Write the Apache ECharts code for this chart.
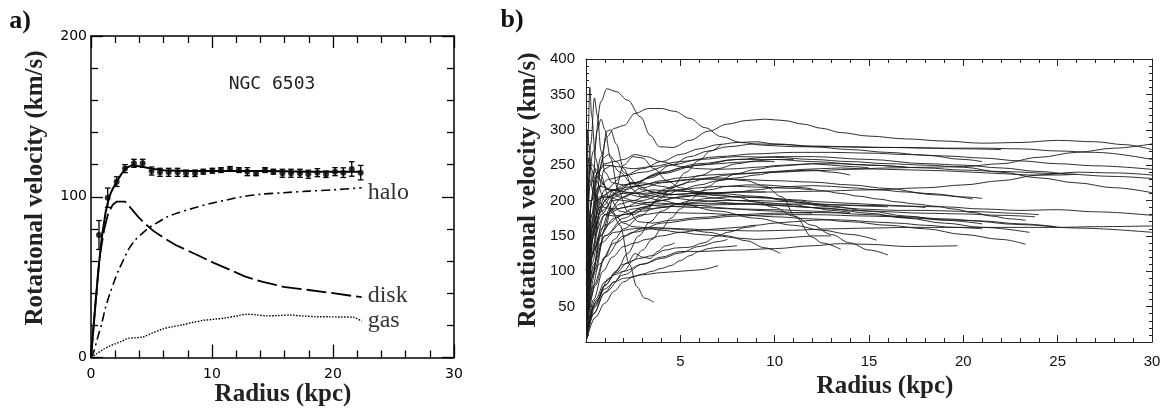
<!DOCTYPE html>
<html>
<head>
<meta charset="utf-8">
<script src="https://cdn.jsdelivr.net/npm/echarts@6/dist/echarts.min.js"></script>
<style>
  html, body { margin: 0; padding: 0; background: #fff; }
  #chart { width: 1170px; height: 408px; }
</style>
</head>
<body>
<div id="chart"></div>
<script>
// ---------- Panel a: NGC 6503 ----------
const radiusPts = [0.66, 1.38, 2.12, 2.81, 3.55, 4.27, 5.01, 5.70, 6.42, 7.16, 7.85, 8.60, 9.28, 10.03, 10.74, 11.49, 12.23, 12.92, 13.64, 14.38, 15.07, 15.82, 16.53, 17.27, 17.96, 18.71, 19.42, 20.17, 20.85, 21.55, 22.29];
const velocityPts = [76.2, 99.4, 109.4, 117.5, 120.8, 120.8, 116.0, 115.2, 115.2, 115.2, 114.6, 114.6, 115.6, 116.2, 116.6, 117.3, 116.6, 115.6, 114.6, 116.6, 115.6, 114.6, 114.6, 114.6, 114.0, 115.0, 114.0, 115.6, 115.0, 117.3, 115.0];
const errorPts = [9, 6, 3, 2.5, 2.5, 2.5, 2.5, 2.5, 2.5, 2.5, 2, 2, 1.5, 1.5, 1.5, 1.5, 1.5, 2.5, 1.5, 1.5, 1.5, 2.5, 2.5, 2.5, 2.5, 2.5, 2, 2.5, 3, 4.5, 4.5];

const fitTotal = [[0,0],[0.3,27],[0.6,54],[0.9,75],[1.2,90],[1.5,100],[1.8,105],[2.1,109],[2.5,114],[2.9,118],[3.4,119.5],[4,119],[5,117.5],[6,116.5],[8,116],[10,116],[12,116],[14,116],[16,115.8],[18,115.6],[20,115.5],[22.3,115.5]];
const fitDisk = [[0,0],[0.35,32],[0.74,64],[1.1,80],[1.43,90],[1.8,95],[2.12,97],[2.81,97],[3.4,92],[3.9,87.5],[4.5,83],[5.2,78.5],[6.1,74],[7,70],[7.85,67],[9,63],[10.1,59],[11.35,55],[12.7,50.5],[14.2,47],[15.9,44],[18,42],[20,40],[22.37,37.5]];
const fitHalo = [[0,0],[0.2,3],[0.5,11],[0.88,21],[1.2,31],[1.57,40],[2,49],[2.26,54],[2.7,61],[3.08,67],[3.64,73],[4.2,77],[4.74,80.5],[5.5,84],[6.3,87.5],[7.2,90],[8.5,93],[9.97,96],[11.2,98],[12.45,100],[14,101.5],[15.9,102.5],[18,103.5],[20,104.3],[22.37,105.6]];
const fitGas = [[0,0],[0.5,2.5],[1,5],[1.43,6.7],[2,8.5],[2.5,10],[3.08,11.9],[3.7,12.3],[4.32,12.8],[5,15],[5.84,17.5],[6.6,19],[7.5,20.2],[8.4,21.8],[9.28,23.1],[10.2,23.8],[11,24.5],[12,25.8],[12.87,26.9],[13.6,26.6],[14.5,25.9],[15.4,26.1],[16.45,26.4],[17.5,25.8],[18.65,25.4],[19.7,25.3],[20.7,25.2],[21.7,25],[22.37,22.5]];

const ticksA_x = [0, 10, 20, 30];
const ticksA_y = [0, 100, 200];

// ---------- Panel b: rotation curves of many spiral galaxies ----------
const galaxyCurves = [
  [[0.05,200],[0.4,270],[0.8,340],[1.1,358],[1.6,354],[2.2,342],[2.9,318],[3.4,292],[3.9,276],[4.6,275],[5.5,285],[6.5,298],[7.5,308],[8.5,313],[9.5,315],[10.5,313],[11.5,308],[12.5,302],[13.5,296],[15,291],[17,287],[19,284],[21,281],[23,282],[25,285],[27,283],[28.5,279],[30,272]],
  [[0.1,150],[0.5,230],[0.8,262],[1.1,290],[1.5,302],[2.0,306],[2.6,323],[3.3,330],[4.0,330],[4.7,326],[5.5,316],[6.3,303],[7.2,290],[8.2,282],[9.5,278],[11,276],[13,276],[15,275],[17,275],[19,274],[21,274],[23,273],[25,270],[27,268],[30,258]],
  [[0.05,80],[0.3,150],[0.7,190],[1.2,205],[2,215],[3,222],[4,228],[5,232],[6.5,236],[8,238],[10,240],[12,242],[14,244],[16,246],[18,247],[20,248],[22,252],[24,261],[26,268],[28,274],[30,280]],
  [[0.05,120],[0.3,200],[0.6,240],[1,250],[1.6,248],[2.5,245],[3.5,248],[5,255],[7,262],[9,266],[11,268],[13,268],[15,267],[17,265],[19,263],[21,260],[23,256],[25,252],[27,249],[30,244]],
  [[0.05,60],[0.3,160],[0.8,205],[1.5,215],[2.5,225],[4,240],[6,252],[8,258],[10,258],[12,255],[15,250],[18,246],[20,243],[22,241],[25,238],[28,234],[30,231]],
  [[0.05,40],[0.4,150],[1,180],[2,190],[3,200],[4,208],[6,210],[8,212],[10,212],[12,213],[15,215],[18,218],[20,222],[22,228],[24,236],[26,240],[28,239],[30,236]],
  [[0.05,100],[0.3,180],[0.7,220],[1.2,230],[2,235],[3,240],[4.5,250],[6,258],[8,262],[10,261],[12,258],[14,255],[16,252],[18,250],[20,247],[22,240],[24,232],[26,225],[28,218],[30,211]],
  [[0.05,60],[0.4,130],[1,165],[2,180],[3,188],[5,192],[7,194],[9,195],[11,195],[13,194],[15,193],[17,192],[19,191],[21,188],[23,186],[25,187],[27,184],[30,179]],
  [[0.05,40],[0.3,100],[0.8,140],[1.5,155],[2.5,160],[3.5,162],[5,160],[7,158],[9,157],[11,158],[13,160],[15,161],[17,162],[19,162],[21,162],[23,162],[25,162],[27,163],[30,164]],
  [[0.05,20],[0.4,80],[1,120],[2,150],[3,160],[4,168],[6,174],[8,178],[10,180],[12,180],[15,178],[20,172],[23,166],[26,161],[30,155]],
  [[0.05,30],[0.3,130],[0.8,190],[1.5,210],[2.5,225],[4,238],[6,250],[8,258],[10,262],[12,262],[15,258],[18,252],[20,250],[22,246],[24,241],[25.5,237]],
  [[0.05,50],[0.2,150],[0.5,200],[1,205],[2,200],[3,195],[4,192],[6,190],[8,188],[10,187],[12,185],[15,180],[17,177],[19,174],[21,171],[23,167],[24.9,163]],
  [[0.05,100],[0.3,200],[0.7,220],[1.5,215],[2.5,210],[4,205],[6,200],[8,196],[10,193],[12,190],[15,185],[18,182],[20,181],[22,179],[23.8,177]],
  [[0.05,30],[0.3,110],[0.7,150],[1.5,175],[2.5,188],[3.5,193],[5,196],[7,196],[9,195],[11,192],[13,188],[15,182],[17,175],[19,168],[21,162],[23.5,155]],
  [[0.05,30],[0.4,110],[1,150],[2,170],[3,180],[4,183],[6,182],[8,180],[10,177],[12,174],[14,170],[16,165],[18,160],[20,152],[22,145],[23.3,138]],
  [[0.05,50],[0.3,150],[0.8,185],[1.5,200],[2.5,210],[3.5,215],[5,213],[7,210],[9,206],[11,200],[13,192],[15,185],[17,178],[19,172],[21,167]],
  [[0.05,60],[0.3,170],[0.7,205],[1.5,215],[2.5,220],[4,226],[6,230],[8,230],[10,228],[12,226],[14,222],[16,217],[18,210],[20.5,202]],
  [[0.05,5],[0.4,40],[1,70],[2,95],[3,110],[4,120],[5,128],[6,128],[8,130],[10,132],[12,136],[13.5,139],[15,138],[17,135],[19.7,136]],
  [[0.05,20],[0.4,100],[1,150],[2,175],[3,190],[4,200],[5,205],[6,208],[7,208],[8,205],[9,198],[10,190],[11,178],[12,165],[13,152],[14,140],[15,130],[16,123]],
  [[0.05,40],[0.4,160],[1,205],[2,210],[3,205],[4,200],[5,195],[7,185],[9,175],[11,165],[12.5,158],[14,152],[15.4,144]],
  [[0.05,30],[0.4,130],[1,180],[2,205],[3,218],[4,225],[5.5,230],[7,232],[8.5,228],[9.5,220],[10.4,205],[11.1,177],[12,148],[12.5,140],[13.5,131]],
  [[0.05,10],[0.2,60],[0.7,110],[1.5,140],[2.5,155],[3.5,160],[4.5,160],[5.5,158],[6.5,155],[7.5,150],[8.5,143],[9.5,133],[10.3,125]],
  [[0.05,20],[0.5,80],[1,120],[1.5,145],[2,160],[2.9,178],[3.8,200],[4.6,220],[5.3,240],[6,257],[6.6,270],[7.2,280]],
  [[0.05,40],[0.3,90],[0.8,160],[1.3,190],[1.8,165],[2.3,110],[2.7,78],[3.1,62],[3.6,56]],
  [[0.05,10],[0.4,50],[1,75],[1.5,85],[2,90],[3,95],[4,98],[5,100],[6,102],[7,108]],
  [[0.05,15],[0.5,55],[1,80],[1.6,98],[2.2,112],[2.6,125],[3,120],[3.4,118],[3.8,128],[4.2,136],[4.7,140]],
  [[0.05,10],[0.5,60],[1,85],[1.5,95],[2,100],[3,110],[4,118],[5,126],[6,135],[7,142],[7.5,145]],
  [[0.05,150],[0.12,300],[0.2,360],[0.3,320],[0.5,260],[0.8,225],[1.2,215],[2,212],[3,210],[4,212],[5,215],[6,218],[7,220],[8,220],[9,219],[10,218],[11,217],[12,215]],
  [[0.05,60],[0.3,200],[0.6,300],[0.8,315],[1.0,300],[1.3,260],[1.7,215],[2.2,185],[2.8,170],[3.5,168],[4.5,172],[6,176],[8,180],[10,182],[12,183],[14,182]],
  [[0.05,40],[0.4,150],[0.8,250],[1.1,298],[1.3,300],[1.6,280],[2.0,245],[2.5,215],[3,205],[4,210],[5,222],[6,235],[7,245],[8,252],[9,256],[10,258],[11,258]],
  [[0.02,100],[0.08,300],[0.15,280],[0.3,230],[0.6,200],[1,190],[1.5,188],[2.5,192],[3.5,198],[5,205],[6.5,210],[8,212],[9.5,212]],
  [[0.05,50],[0.3,180],[0.6,240],[1,252],[1.5,255],[2,258],[2.6,265],[3.2,262],[4,255],[5,248],[6,245],[7,244],[8,245],[9,247],[10.5,250],[12,252],[13.5,252],[15,250],[17,247]],
  [[0.05,30],[0.3,120],[0.7,180],[1,200],[1.5,215],[2,222],[3,225],[4,220],[5,214],[6,210],[7,207],[8,205],[9,204],[10,203],[11,201],[12.5,198],[14,196],[15.5,194],[17,192],[18,190]],
  [[0.05,10],[0.6,60],[1.2,90],[2,110],[2.8,118],[3.5,122],[4.2,130],[4.8,133],[5.5,134],[6.2,140],[7,150],[7.5,155],[8.5,162],[9,164]],
  [[0.05,30],[0.3,140],[0.6,210],[1,245],[1.4,250],[1.8,240],[2.4,225],[3,215],[4,210],[5,208],[6,206],[7,203],[8,200],[9,198],[10,196],[11,194],[12,190],[13,186],[14,183]],
  [[0.05,20],[0.5,100],[1,160],[1.5,210],[2,250],[2.5,262],[3,260],[3.6,245],[4.3,228],[5,218],[6,212],[7,210],[8,212],[9,215],[10,218],[11,220],[12,221],[13,220],[14,218],[15.5,215],[17,212],[18.5,208],[20,205],[21,203]],
  [[0.05,100],[0.2,220],[0.5,245],[0.8,235],[1.2,205],[1.8,185],[2.5,180],[3.2,190],[4,205],[5,215],[6,222],[7,228],[8,232],[9,236],[10,240],[11,242],[12,243],[13,240],[14,236]],
  [[0.05,20],[0.3,90],[0.8,150],[1.3,185],[1.8,195],[2.5,200],[3.5,210],[4.5,218],[5.5,226],[6.5,232],[7.5,236],[8.5,238],[9.5,240],[10.5,242],[11.5,244],[12.5,245],[13.5,246],[14.5,245],[16,244],[17.5,243],[19,242],[20.5,240],[22,238],[23.5,236],[25,236],[26,237]],
  [[0.05,5],[0.4,40],[1,70],[1.5,85],[2,100],[2.5,115],[3,130],[3.5,145],[4,160],[4.5,175],[5,188],[5.5,200],[6,210],[6.5,220],[7,228],[8,238],[9,244],[10,248],[11,250],[12,252],[13,250],[14,248],[15,246]],
  [[0.05,8],[0.5,50],[1,80],[1.6,100],[2.2,125],[2.8,150],[3.4,170],[4,185],[4.8,195],[5.6,200],[6.5,203],[7.5,205],[8.5,205],[9.5,204],[10.5,200],[11.5,196],[12.5,192],[13.5,190],[14.5,188],[15.5,187],[16.5,186],[18,186],[19.5,185],[21,184],[22.5,182],[24,180]],
  [[0.05,150],[0.2,250],[0.5,230],[1,200],[1.5,180],[2,168],[2.5,163],[3,162],[4,158],[5,155],[6,152],[7,150],[8,147],[9,145],[10,146],[11,148],[12,150],[13,150]],
  [[0.05,40],[0.3,160],[0.6,230],[0.9,260],[1.2,265],[1.6,255],[2.1,238],[2.8,220],[3.5,212],[4.5,208],[5.5,210],[6.5,215],[7.5,220],[8.5,222],[9.5,222],[10.5,220],[11.5,218],[12.5,214],[13.5,210],[14.5,206],[15.5,202],[16.5,198],[17.5,195],[18.5,192],[19.5,188],[20.5,183],[21.5,178],[22.5,174],[23.3,172]],
  [[0.02,80],[0.1,200],[0.2,230],[0.4,210],[0.7,190],[1,180],[1.5,178],[2,180],[3,185],[4,190],[5,195],[6,198],[7,200],[8,200],[9,200],[10,199],[11,198],[12,196],[13,194],[14,193],[15,192],[16,191]],
  [[0.05,5],[0.5,35],[1,55],[1.5,72],[2,85],[2.5,92],[3,96],[3.5,100],[4,104],[4.5,108],[5,115],[5.5,122],[6,128],[6.5,132],[7,134],[8,136]],
  [[0.05,10],[0.4,60],[0.9,100],[1.4,120],[2,135],[2.6,140],[3.2,145],[4,150],[5,155],[6,158],[7,160],[8,162],[9,165],[10,168],[11,170],[12,172],[13,173],[14,172],[15,170],[16.5,168],[18,165],[19.5,162],[21,160]],
  [[0.05,100],[0.25,280],[0.45,345],[0.6,320],[0.8,270],[1,240],[1.4,225],[2,222],[2.6,225],[3.4,232],[4.2,240],[5,246],[6,250],[7,252],[8,254],[9,255],[10,255]],
  [[0.05,200],[0.15,260],[0.35,250],[0.7,230],[1.2,215],[1.8,205],[2.5,200],[3.2,197],[4,196],[5,195],[6,193],[7,190],[8,188],[9,186],[10,185],[11,183],[12,182]],
  [[0.05,50],[0.4,170],[1,215],[2,235],[3,245],[4,255],[5,265],[6,273],[7,279],[8,282],[9,283],[10,280],[12,277],[14,276],[16,275],[18,274],[20,273],[22,272]],
  [[0.05,30],[0.3,120],[0.8,180],[1.5,205],[2.5,220],[3.5,235],[4.5,250],[5.5,262],[6.5,270],[7.5,276],[9,280],[10.5,279],[12,276],[14,272],[16,268],[18,264],[20,258],[21,255]]
];

const ticksB_x = [5, 10, 15, 20, 25, 30];
const ticksB_y = [50, 100, 150, 200, 250, 300, 350, 400];

// ---------- styles ----------
const serifBold = 'bold 25px "Liberation Serif", "Times New Roman", serif';
const ink = '#111';

function frameAxis(extra) {
  return Object.assign({
    type: 'value',
    splitLine: { show: false },
    axisLine: { show: true, onZero: false, lineStyle: { color: '#000', width: 1.5 } },
    axisTick: { show: true, inside: true, length: 12, lineStyle: { color: '#000', width: 1.3 } },
    minorTick: { show: true, splitNumber: 5, length: 7, lineStyle: { color: '#000', width: 1.3 } },
    axisLabel: { show: false }
  }, extra);
}

const labelA = { show: true, color: '#000', fontFamily: '"DejaVu Sans", sans-serif', fontSize: 14 };
const labelB = { show: true, color: ink, fontFamily: '"Liberation Sans", Arial, sans-serif', fontSize: 15 };

const thinLine = { show: true, onZero: false, lineStyle: { color: '#222', width: 1 } };
const thinTick = { show: true, inside: true, length: 7, lineStyle: { color: '#222', width: 1 } };
const thinMinor = { show: true, splitNumber: 5, length: 4, lineStyle: { color: '#222', width: 1 } };

const xAxes = [
  frameAxis({ gridIndex: 0, position: 'bottom', min: 0, max: 30, interval: 10,
    axisTick: { show: true, inside: true, length: 13, lineStyle: { color: '#000', width: 1.3 } },
    axisLabel: Object.assign({}, labelA, { margin: 10, formatter: v => ticksA_x.includes(v) ? String(v) : '' }) }),
  frameAxis({ gridIndex: 0, position: 'top', min: 0, max: 30, interval: 10 }),
  frameAxis({ gridIndex: 1, position: 'bottom', min: 0, max: 30, interval: 5,
    axisLine: thinLine, axisTick: thinTick, minorTick: thinMinor,
    axisLabel: Object.assign({}, labelB, { margin: 12, showMinLabel: false, formatter: v => ticksB_x.includes(v) ? String(v) : '' }) }),
  frameAxis({ gridIndex: 1, position: 'top', min: 0, max: 30, interval: 5,
    axisLine: thinLine, axisTick: thinTick, minorTick: thinMinor })
];

const yAxes = [
  frameAxis({ gridIndex: 0, position: 'left', min: 0, max: 200, interval: 100,
    axisLabel: Object.assign({}, labelA, { margin: 4, formatter: v => ticksA_y.includes(v) ? String(v) : '' }) }),
  frameAxis({ gridIndex: 0, position: 'right', min: 0, max: 200, interval: 100 }),
  frameAxis({ gridIndex: 1, position: 'left', min: 0, max: 400, interval: 50,
    axisLine: thinLine,
    axisTick: Object.assign({}, thinTick, { length: 6 }),
    minorTick: Object.assign({}, thinMinor, { length: 3 }),
    axisLabel: Object.assign({}, labelB, { margin: 11, showMinLabel: false, formatter: v => ticksB_y.includes(v) ? String(v) : '' }) }),
  frameAxis({ gridIndex: 1, position: 'right', min: 0, max: 400, interval: 50,
    axisLine: thinLine,
    axisTick: Object.assign({}, thinTick, { length: 6 }),
    minorTick: Object.assign({}, thinMinor, { length: 3 }) })
];

const curveLabel = (txt, dy) => ({
  show: true, formatter: txt, distance: 6, offset: [0, dy],
  color: '#333', fontFamily: '"Liberation Serif", "Times New Roman", serif', fontSize: 24
});

const series = [
  {
    name: 'total', type: 'line', xAxisIndex: 0, yAxisIndex: 0, data: fitTotal,
    showSymbol: false, smooth: false, lineStyle: { color: '#000', width: 2 }, z: 3, silent: true
  },
  {
    name: 'halo', type: 'line', xAxisIndex: 0, yAxisIndex: 0, data: fitHalo,
    showSymbol: false, smooth: 0.3, lineStyle: { color: '#000', width: 1.6, type: [9, 4, 2, 4] },
    endLabel: curveLabel('halo', 5), silent: true
  },
  {
    name: 'disk', type: 'line', xAxisIndex: 0, yAxisIndex: 0, data: fitDisk,
    showSymbol: false, smooth: false, lineStyle: { color: '#000', width: 1.8, type: [20, 5] },
    endLabel: curveLabel('disk', -2), silent: true
  },
  {
    name: 'gas', type: 'line', xAxisIndex: 0, yAxisIndex: 0, data: fitGas,
    showSymbol: false, smooth: 0.3, lineStyle: { color: '#000', width: 1.4, type: [1.5, 1.5] },
    endLabel: curveLabel('gas', -1), silent: true
  },
  {
    name: 'errors', type: 'custom', xAxisIndex: 0, yAxisIndex: 0,
    data: radiusPts.map((r, i) => [r, velocityPts[i], errorPts[i]]),
    renderItem: function (params, api) {
      const r = api.value(0), v = api.value(1), e = api.value(2);
      const top = api.coord([r, v + e]);
      const bot = api.coord([r, v - e]);
      const w = 2.8;
      const st = { stroke: '#000', lineWidth: 1.3 };
      return {
        type: 'group',
        children: [
          { type: 'line', shape: { x1: top[0], y1: top[1], x2: bot[0], y2: bot[1] }, style: st },
          { type: 'line', shape: { x1: top[0] - w, y1: top[1], x2: top[0] + w, y2: top[1] }, style: st },
          { type: 'line', shape: { x1: bot[0] - w, y1: bot[1], x2: bot[0] + w, y2: bot[1] }, style: st }
        ]
      };
    },
    z: 4, silent: true
  },
  {
    name: 'data', type: 'scatter', xAxisIndex: 0, yAxisIndex: 0,
    data: radiusPts.map((r, i) => [r, velocityPts[i]]),
    symbol: 'circle', symbolSize: 6, itemStyle: { color: '#000' }, z: 5, silent: true
  }
];

galaxyCurves.forEach((pts, i) => {
  series.push({
    name: 'galaxy' + i, type: 'line', xAxisIndex: 2, yAxisIndex: 2, data: pts,
    showSymbol: false, smooth: 0.35, smoothMonotone: 'x', clip: true, silent: true,
    lineStyle: { color: '#1a1a1a', width: 0.9 }
  });
});

const option = {
  backgroundColor: '#fff',
  animation: false,
  grid: [
    { left: 91, top: 36, width: 363, height: 321.5, outerBoundsMode: 'none' },
    { left: 586, top: 59, width: 566, height: 283, outerBoundsMode: 'none' }
  ],
  xAxis: xAxes,
  yAxis: yAxes,
  series: series,
  graphic: [
    { type: 'text', x: 20, y: 21, style: { text: 'a)', font: 'bold 26px "Liberation Serif", serif', fill: ink, align: 'center', verticalAlign: 'middle' } },
    { type: 'text', x: 512, y: 20, style: { text: 'b)', font: 'bold 26px "Liberation Serif", serif', fill: ink, align: 'center', verticalAlign: 'middle' } },
    { type: 'text', x: 36, y: 188, rotation: Math.PI / 2, style: { text: 'Rotational velocity (km/s)', font: serifBold, fill: '#222', align: 'center', verticalAlign: 'middle' } },
    { type: 'text', x: 283, y: 395, style: { text: 'Radius (kpc)', font: serifBold, fill: '#222', align: 'center', verticalAlign: 'middle' } },
    { type: 'text', x: 529, y: 190, rotation: Math.PI / 2, style: { text: 'Rotational velocity (km/s)', font: serifBold, fill: '#222', align: 'center', verticalAlign: 'middle' } },
    { type: 'text', x: 885, y: 387, style: { text: 'Radius (kpc)', font: serifBold, fill: '#222', align: 'center', verticalAlign: 'middle' } },
    { type: 'text', x: 272, y: 84, style: { text: 'NGC 6503', font: '18px "DejaVu Sans Mono", monospace', fill: '#222', align: 'center', verticalAlign: 'middle' } }
  ]
};

const chart = echarts.init(document.getElementById('chart'), null, { renderer: 'canvas', width: 1170, height: 408 });
chart.setOption(option);
</script>
</body>
</html>
